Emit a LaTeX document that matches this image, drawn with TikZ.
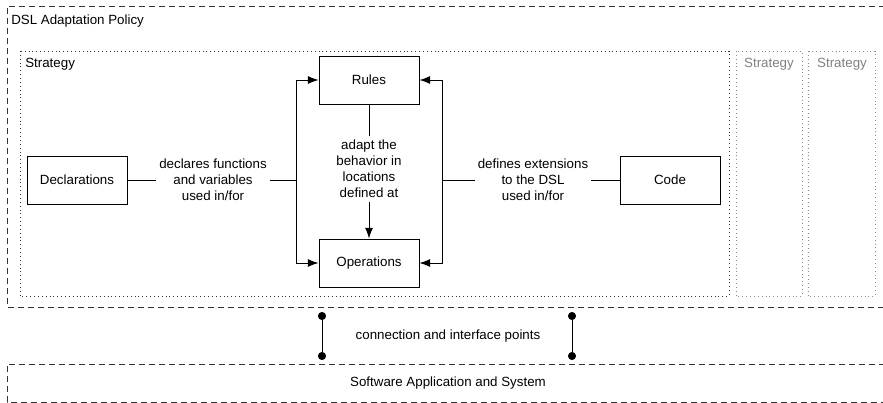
\documentclass[tikz,border=0pt]{standalone}
\usepackage{fontspec}
\setmainfont{Liberation Sans}
\usetikzlibrary{arrows.meta,positioning}

\begin{document}
\begin{tikzpicture}[x=0.75pt,y=-0.75pt,
				font=\fontsize{10}{12}\selectfont,
				policy_box/.style ={draw=black!80, line width=0.7pt, dash pattern=on 4.5pt off 3pt},
				strategy_box/.style ={draw=black!80, line width=0.7pt, dash pattern=on 0.7pt off 2.2pt},
				other_box/.style ={strategy_box, draw=black!45},
				block/.style ={rectangle, draw=black, line width=0.7pt,
					minimum width=75pt, minimum height=36pt, inner sep=2pt},
				label_text/.style ={align=center, inner sep=2pt},
				line/.style ={draw, line width=0.7pt},
				arrow/.style ={line, -{Latex[length=8pt,width=6pt]}},
				dot_line/.style ={line, {Circle[length=6pt]}-{Circle[length=6pt]}}]
				\useasboundingbox (0,0) rectangle (883,403);
				% containers
				\draw[policy_box] (885,6) -- (7,6) -- (7,307) -- (885,307);
				\node[anchor=west, inner sep=0pt] (policyLabel) at (11,21) {DSL Adaptation Policy};
				\draw[strategy_box] (20,51) rectangle (729,296);
				\node[anchor=west, inner sep=0pt] (strategyLabel) at (25,64) {Strategy};
				\draw[other_box] (736,51) rectangle (802,296);
				\node[text=black!50] (strategyTwo) at (769,64) {Strategy};
				\draw[other_box] (808,51) rectangle (875,296);
				\node[text=black!50] (strategyThree) at (842,64) {Strategy};
				\draw[policy_box] (885,364) -- (7,364) -- (7,402) -- (885,402);
				\node (system) at (448,383) {Software Application and System};
				% blocks
				\node [block] (rules) at (369,80) {Rules};
				\node [block] (operations) at (369,263) {Operations};
				\node [block] (declarations) at (77,180) {Declarations};
				\node [block] (code) at (670,180) {Code};
				% labels
				\node [label_text] (declaresLabel) at (213,180) {declares functions\\and variables\\used in/for};
				\node [label_text] (definesLabel) at (533,180) {defines extensions\\to the DSL\\used in/for};
				\node [label_text, inner sep=3pt] (adaptLabel) at (369,169) {adapt the\\behavior in\\locations\\defined at};
				\coordinate (leftBus) at (296,180);
				\coordinate (rightBus) at (442,180);
				% connecting nodes with paths
				\path[line] (declarations) -- (declaresLabel) -- (leftBus);
				\path[arrow] (leftBus) |- (rules);
				\path[arrow] (leftBus) |- (operations);
				\path[line] (code) -- (definesLabel) -- (rightBus);
				\path[arrow] (rightBus) |- (rules);
				\path[arrow] (rightBus) |- (operations);
				\path[line] (rules) -- (adaptLabel);
				\path[arrow] (adaptLabel) -- (operations);
				% interface points
				\coordinate (leftTop) at (322,312);
				\coordinate (leftBottom) at (322,360);
				\coordinate (rightTop) at (572,312);
				\coordinate (rightBottom) at (572,360);
				\node (interface) at (448,336) {connection and interface points};
				\path[dot_line] (leftTop) -- (leftBottom);
				\path[dot_line] (rightTop) -- (rightBottom);
			\end{tikzpicture}
\end{document}
